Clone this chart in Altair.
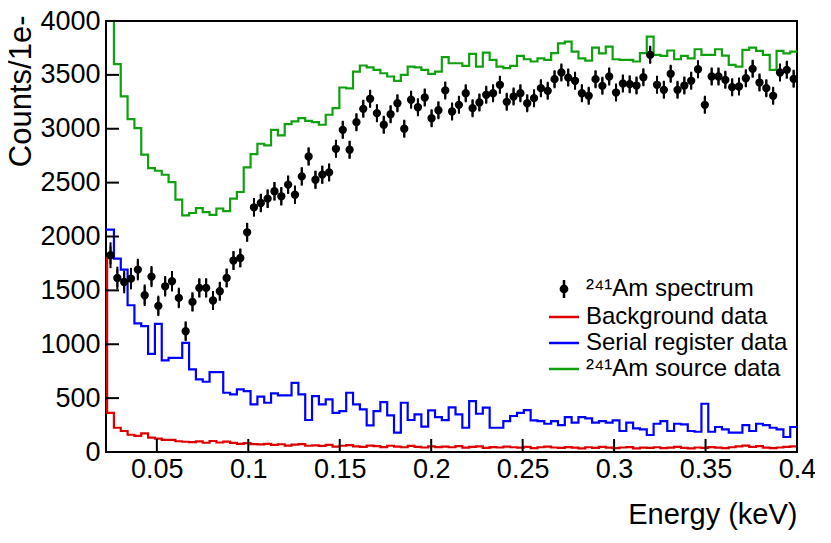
import altair as alt
import pandas as pd

# ---- binning (keV) ----
E_MIN = 0.0228      # lower edge of first bin
BIN_W = 0.003735    # bin width (1 e-)
X_MIN, X_MAX = 0.0222, 0.4
Y_MAX = 4000

LABELS = ["\u00b2\u2074\u00b9Am spectrum", "Background data",
          "Serial register data", "\u00b2\u2074\u00b9Am source data"]
COLORS = ["#000000", "#dd0000", "#0000ff", "#10a010"]
FILLS = ["#000000", "transparent", "transparent", "transparent"]

X_TICKS = [0.05, 0.1, 0.15, 0.2, 0.25, 0.3, 0.35, 0.4]
Y_TICKS = [0, 500, 1000, 1500, 2000, 2500, 3000, 3500, 4000]

# ---- data (101 bins) ----
spectrum = [1826, 1615, 1578, 1609, 1693, 1455, 1628, 1356, 1538, 1585,
            1430, 1121, 1393, 1523, 1523, 1406, 1492, 1615, 1777, 1801,
            2039, 2271, 2311, 2351, 2420, 2373, 2481, 2388, 2558, 2743,
            2527, 2574, 2595, 2814, 2990, 2805, 3061, 3185, 3278, 3145,
            3037, 3135, 3237, 3000, 3269, 3200, 3290, 3098, 3172, 3356,
            3160, 3222, 3330, 3191, 3244, 3315, 3330, 3408, 3250, 3299,
            3330, 3237, 3284, 3377, 3352, 3460, 3522, 3475, 3445, 3330,
            3306, 3460, 3398, 3485, 3336, 3420, 3414, 3401, 3478, 3686,
            3408, 3361, 3510, 3361, 3401, 3445, 3552, 3222, 3485, 3485,
            3454, 3386, 3392, 3469, 3556, 3429, 3377, 3306, 3522, 3547,
            3463]
spectrum_err = [120, 105, 105, 100, 100, 100, 98, 95, 95, 95,
                95, 92, 90, 90, 90, 88, 88, 88, 88, 88,
                88, 86, 86, 86, 86, 84, 84, 84, 84, 82,
                82, 82, 80, 80, 80, 80, 78, 78, 78, 78,
                78, 78, 76, 76, 76, 76, 76, 76, 76, 76,
                75, 75, 75, 75, 75, 75, 75, 75, 75, 75,
                75, 75, 75, 75, 75, 76, 76, 76, 76, 75,
                75, 76, 75, 76, 75, 75, 75, 75, 76, 77,
                75, 75, 76, 75, 75, 76, 76, 74, 76, 76,
                76, 75, 75, 76, 76, 75, 75, 75, 76, 76,
                76]

background_under = 1800
background = [364, 225, 195, 160, 150, 173, 133, 124, 112, 112,
              100, 95, 92, 98, 86, 102, 88, 96, 84, 76,
              82, 74, 70, 76, 66, 72, 60, 68, 74, 58,
              62, 56, 66, 50, 58, 64, 52, 48, 60, 54,
              46, 58, 50, 44, 56, 48, 42, 52, 46, 50,
              44, 54, 40, 48, 52, 38, 46, 42, 50, 44,
              40, 48, 36, 44, 50, 42, 38, 46, 40, 34,
              44, 38, 48, 40, 36, 42, 46, 34, 40, 38,
              44, 36, 40, 48, 38, 34, 42, 38, 46, 40,
              36, 44, 52, 60, 48, 54, 40, 36, 42, 48,
              52]

serial_under = 2064
serial = [2064, 1795, 1693, 1362, 1193, 1168, 911, 1189, 850, 874,
          874, 1013, 766, 674, 652, 741, 741, 550, 535, 581,
          565, 442, 513, 457, 544, 525, 525, 642, 535, 297,
          519, 442, 488, 364, 380, 550, 442, 396, 247, 380,
          463, 340, 179, 457, 297, 349, 235, 386, 324, 295,
          414, 349, 225, 473, 355, 411, 225, 225, 287, 334,
          364, 389, 294, 287, 262, 287, 250, 324, 272, 324,
          312, 272, 287, 272, 294, 195, 272, 220, 210, 158,
          262, 287, 195, 262, 256, 195, 188, 448, 188, 232,
          210, 179, 179, 250, 195, 262, 250, 225, 210, 139,
          232]

source_under = 4400
source = [4250, 3600, 3300, 3090, 3005, 2760, 2635, 2610, 2573, 2505,
          2342, 2196, 2218, 2264, 2226, 2200, 2260, 2235, 2351, 2413,
          2641, 2765, 2861, 2846, 2990, 2938, 3043, 3068, 3098, 3074,
          3061, 3037, 3130, 3191, 3383, 3375, 3531, 3587, 3570, 3546,
          3515, 3485, 3445, 3500, 3577, 3570, 3546, 3509, 3531, 3664,
          3608, 3608, 3584, 3695, 3577, 3707, 3639, 3577, 3562, 3584,
          3676, 3645, 3624, 3654, 3639, 3701, 3793, 3809, 3716, 3654,
          3633, 3753, 3700, 3763, 3645, 3639, 3639, 3624, 3701, 3855,
          3686, 3676, 3726, 3645, 3676, 3654, 3738, 3686, 3686, 3738,
          3679, 3593, 3577, 3732, 3753, 3723, 3686, 3547, 3723, 3700,
          3716]

N = len(spectrum)

# ---- tables ----
rows = []
for label, under, vals in [(LABELS[1], background_under, background),
                           (LABELS[2], serial_under, serial),
                           (LABELS[3], source_under, source)]:
    rows.append({"series": label, "x": E_MIN - BIN_W, "v": under})
    for i, v in enumerate(vals):
        rows.append({"series": label, "x": E_MIN + i * BIN_W, "v": v})
    rows.append({"series": label, "x": E_MIN + N * BIN_W, "v": vals[-1]})
hist_df = pd.DataFrame(rows)

pts_df = pd.DataFrame({
    "series": [LABELS[0]] * N,
    "x": [E_MIN + (i + 0.5) * BIN_W for i in range(N)],
    "v": spectrum,
    "lo": [v - e for v, e in zip(spectrum, spectrum_err)],
    "hi": [v + e for v, e in zip(spectrum, spectrum_err)],
})
xt_df = pd.DataFrame({"x": X_TICKS})
yt_df = pd.DataFrame({"v": Y_TICKS})

FONT = "Liberation Sans"
W, H = 691, 431

x_scale = alt.Scale(domain=[X_MIN, X_MAX], nice=False, zero=False)
y_scale = alt.Scale(domain=[0, Y_MAX], nice=False, zero=False)

x_axis = alt.Axis(values=X_TICKS, format=".2~f", ticks=False, domain=False,
                  grid=False, labelFont=FONT, labelFontSize=27,
                  labelColor="black", labelPadding=4, labelFlush=False,
                  labelOverlap=False,
                  title="Energy (keV)", titleFont=FONT, titleFontSize=29,
                  titleFontWeight="normal", titleColor="black",
                  titleAnchor="end", titleAlign="right",
                  titleBaseline="alphabetic", titleX=W, titleY=71)
y_axis = alt.Axis(values=Y_TICKS, format="d", ticks=False, domain=False,
                  grid=False, labelFont=FONT, labelFontSize=27,
                  labelColor="black", labelPadding=6, labelFlush=False,
                  labelOverlap=False,
                  title="Counts/1e-", titleFont=FONT, titleFontSize=31,
                  titleFontWeight="normal", titleColor="black",
                  titleAnchor="end", titleAlign="right", titleAngle=270,
                  titleBaseline="alphabetic", titleX=-76, titleY=-6)


def X(field):
    return alt.X(field, type="quantitative", scale=x_scale, axis=x_axis)


def Y(field):
    return alt.Y(field, type="quantitative", scale=y_scale, axis=y_axis)


# marker: filled circle with a short vertical bar (shown in legend too)
spec_path = ("M0,-1.2L0,1.2M-0.42,0A0.42,0.42,0,1,0,0.42,0"
             "A0.42,0.42,0,1,0,-0.42,0Z")
line_path = "M-2,0L2,0"
SHAPES = [spec_path, line_path, line_path, line_path]

legend = alt.Legend(
    title=None, orient="none", legendX=446, legendY=256,
    labelFont=FONT, labelFontSize=24, labelColor="black", labelLimit=400,
    labelOffset=10, symbolSize=225, symbolStrokeWidth=2.5, rowPadding=2,
    symbolOpacity=1,
)

hist = alt.Chart(hist_df).mark_line(
    interpolate="step-after", clip=True, strokeWidth=2.2
).encode(
    x=X("x"), y=Y("v"),
    color=alt.Color("series:N", scale=alt.Scale(domain=LABELS, range=COLORS),
                    legend=legend),
)

errs = alt.Chart(pts_df).mark_rule(color="black", strokeWidth=2, clip=True).encode(
    x=X("x"), y=Y("lo"), y2="hi"
)
pts = alt.Chart(pts_df).mark_point(
    size=225, strokeWidth=2, opacity=1, clip=True
).encode(
    x=X("x"), y=Y("v"),
    stroke=alt.Stroke("series:N", scale=alt.Scale(domain=LABELS, range=COLORS),
                      legend=legend),
    fill=alt.Fill("series:N", scale=alt.Scale(domain=LABELS, range=FILLS),
                  legend=legend),
    shape=alt.Shape("series:N", scale=alt.Scale(domain=LABELS, range=SHAPES),
                    legend=legend),
)

yticks = alt.Chart(yt_df).mark_rule(color="black", strokeWidth=2).encode(
    y=Y("v"), x=alt.value(0), x2=alt.value(13)
)
xticks = alt.Chart(xt_df).mark_rule(color="black", strokeWidth=2).encode(
    x=X("x"), y=alt.value(H), y2=alt.value(H - 13)
)

chart = alt.layer(hist, errs, pts, yticks, xticks).properties(
    width=W, height=H,
    autosize=alt.AutoSizeParams(type="none"),
    padding={"left": 98, "top": 13, "right": 18, "bottom": 80},
    background="white",
).configure_view(stroke="black", strokeWidth=2)

chart.save("out.html", embed_options={"renderer": "svg", "actions": False})
